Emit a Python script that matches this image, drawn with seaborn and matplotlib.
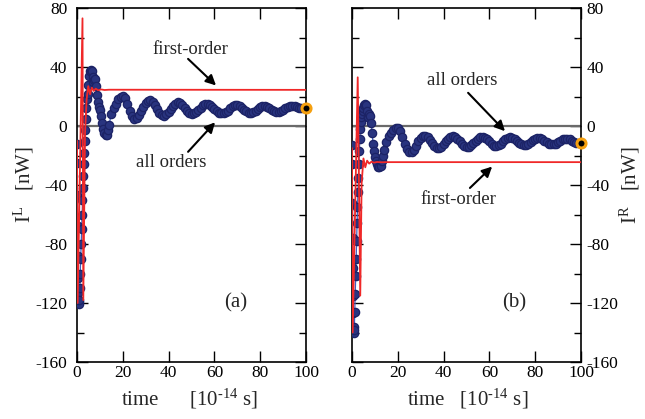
import numpy as np
import pandas as pd
import matplotlib
matplotlib.use("Agg")
import matplotlib.pyplot as plt
import seaborn as sns

# ---------------- data ----------------
t_early = [0.0, 0.1, 0.2, 0.3, 0.4, 0.5, 0.6, 0.7, 0.85, 1.0,
           1.2, 1.4, 1.6, 1.8, 2.0, 2.2, 2.4, 2.6, 2.8, 3.0,
           3.2, 3.4, 3.6, 3.8, 4.0, 4.3, 4.6, 5.0, 5.3, 5.6,
           6.0, 6.4, 6.8, 7.2, 7.6, 8.0, 8.4, 8.8, 9.2, 9.6,
           10.0, 10.5, 11.0, 11.5, 12.0, 12.5, 13.0, 13.5]
t_late = list(range(14, 101))

all_L_early = [-12, -25, -47, -68, -88, -103, -113, -119, -121, -118,
               -110, -100, -90, -80, -70, -60, -50, -42, -34, -26,
               -18, -10, -3, 5, 12, 18, 22, 28, 34, 37,
               38, 37, 33, 30, 31, 32, 27, 21, 16, 13,
               11, 7, 2, -2, -5, -6, -6, -3]
all_L_late = [1, 8, 12, 15, 18, 20, 20.5, 19, 15, 10,
              6.5, 5, 5.5, 7.5, 10, 13, 15.5, 17, 17.5, 16.5,
              14.5, 11.5, 9, 7.5, 7, 8, 9.5, 11.5, 13.5, 15,
              16, 15.5, 14, 12, 10, 8.5, 8, 8.5, 9.5, 11,
              12.5, 14, 15, 15, 14.5, 13, 11.5, 10, 9, 8.5,
              8.5, 9.5, 10.5, 12, 13.5, 14, 14, 13.5, 12.5, 11,
              10, 9, 9, 9.5, 10.5, 11.5, 13, 13.5, 13.5, 13,
              12, 11, 10, 9.5, 9.5, 10, 11, 12, 13, 13.5,
              13.5, 13.5, 13, 12.5, 12, 12, 12]

all_R_early = [-13, -26, -52, -76, -96, -115, -127, -136, -140, -138,
               -126, -114, -102, -90, -78, -66, -55, -45, -35, -26,
               -17, -9, -2, 3, 6, 8, 10, 12, 14, 15,
               14, 10, 6, 6, 8, 7, 2, -5, -12, -17,
               -21, -24, -26, -27.5, -28, -27, -24, -20]
all_R_late = [-16, -11, -7, -4.5, -2.5, -1.5, -1.5, -3.5, -7.5, -12,
              -15.5, -17.5, -17.5, -16, -13.5, -10.5, -8, -6.5, -6.5, -7.5,
              -9.5, -11.5, -13.5, -15, -15, -14, -12.5, -10.5, -9, -7.5,
              -7, -7.5, -8.5, -10, -12, -13.5, -14, -14, -13, -11.5,
              -10, -8.5, -7.5, -7.5, -8, -9, -10.5, -12, -13.5, -13.5,
              -13, -12, -10.5, -9, -8, -7.5, -8, -9, -10, -11.5,
              -12.5, -13, -13, -12, -11, -9.5, -8.5, -8, -8, -9,
              -10, -11, -12, -12.5, -12.5, -12, -11, -10, -9, -8.5,
              -8.5, -9, -10, -11, -11.5, -11.5, -11.5]

t_red_L = [0.0, 0.3, 2.4, 2.75, 3.5, 4.2, 4.9, 5.7, 6.5, 7.3, 8.2, 9.2, 10.5, 12.0, 14.0, 100.0]
first_L = [-10, -120, 73, -118, -5, 18, 27, 21.5, 26, 23.8, 25.3, 24.2, 24.8, 24.4, 24.6, 24.5]
t_red_R = [0.0, 0.3, 2.5, 3.6, 4.2, 5.0, 5.8, 6.6, 7.5, 8.5, 9.5, 11.0, 13.0, 15.0, 100.0]
first_R = [-15, -140, 33, -115, -39, -22, -28, -23.5, -25.5, -24.2, -24.8, -24.4, -24.6, -24.5, -24.5]

x_ticks = [0, 20, 40, 60, 80, 100]
y_ticks = [-160, -120, -80, -40, 0, 40, 80]

# ---------------- style ----------------
sns.set_theme(style="ticks")
plt.rcParams["font.family"] = ["Liberation Serif", "DejaVu Serif"]
plt.rcParams["mathtext.fontset"] = "custom"
plt.rcParams["mathtext.rm"] = "Liberation Serif"
plt.rcParams["mathtext.it"] = "Liberation Serif:italic"
plt.rcParams["axes.unicode_minus"] = False

fig = plt.figure(figsize=(6.45, 4.19), dpi=100)
axL = fig.add_axes([77 / 645, 1 - 362 / 419, 229 / 645, 354 / 419])
axR = fig.add_axes([352 / 645, 1 - 362 / 419, 229 / 645, 354 / 419])

blue_face = "#29347f"
blue_edge = "#1c2366"
red = "#f02828"

def draw(ax, t_red, first, all_early, all_late):
    ax.axhline(0, color="#6a6a6a", lw=1.6, zorder=1)
    dfb = pd.DataFrame({"t": t_early + t_late, "v": all_early + all_late})
    sns.lineplot(data=dfb, x="t", y="v", ax=ax, color="#3f5fc0", lw=0.9,
                 marker="o", markersize=6, markerfacecolor=blue_face,
                 markeredgecolor=blue_edge, markeredgewidth=0.9,
                 estimator=None, sort=False, zorder=3)
    dfr = pd.DataFrame({"t": t_red, "v": first})
    sns.lineplot(data=dfr, x="t", y="v", ax=ax, color=red, lw=1.3,
                 estimator=None, sort=False, zorder=4)
    ax.plot([t_late[-1]], [all_late[-1]], "o", ms=6.5, mfc="black",
            mec="#f5a010", mew=2.2, clip_on=False, zorder=6)
    ax.set_xlim(0, 100)
    ax.set_ylim(-160, 80)
    ax.set_xticks(x_ticks)
    ax.set_yticks(y_ticks)
    ax.set_yticks([-140, -100, -60, -20, 20, 60], minor=True)
    ax.tick_params(which="both", direction="in", top=True, right=True,
                   left=True, bottom=True, width=1.0, colors="black",
                   labelsize=12.5, pad=2)
    ax.tick_params(which="major", length=8)
    ax.tick_params(which="minor", length=5)
    ax.set_xlabel("")
    ax.set_ylabel("")
    for s in ax.spines.values():
        s.set_linewidth(1.2)
        s.set_color("black")

draw(axL, t_red_L, first_L, all_L_early, all_L_late)
draw(axR, t_red_R, first_R, all_R_early, all_R_late)
axL.tick_params(axis="y", pad=7)
axR.tick_params(axis="y", labelleft=False, labelright=True, pad=4)

xl = "time%s[10$^{\\mathrm{\\text{-}14}}$ s]"
fig.text(190 / 645, 1 - 399 / 419, xl % "      ", fontsize=15, ha="center", va="center")
fig.text(468 / 645, 1 - 399 / 419, xl % "   ", fontsize=15, ha="center", va="center")
fig.text(24 / 645, 1 - 185 / 419, "I$^{\\rm L}$   [nW]", fontsize=15,
         rotation=90, ha="center", va="center")
fig.text(630 / 645, 1 - 185 / 419, "I$^{\\rm R}$   [nW]", fontsize=15,
         rotation=90, ha="center", va="center")

arrow = dict(arrowstyle="-|>", color="black", lw=1.5, mutation_scale=15,
             shrinkA=0, shrinkB=0)
axL.text(49.5, 52, "first-order", fontsize=13.5, ha="center", va="center")
axL.annotate("", xy=(60.7, 27.5), xytext=(48.5, 45.5), arrowprops=arrow)
axL.text(41, -25, "all orders", fontsize=13.5, ha="center", va="center")
axL.annotate("", xy=(60.3, 2.5), xytext=(48.5, -17.5), arrowprops=arrow)
axL.text(69.5, -120, "(a)", fontsize=15, ha="center", va="center")

axR.text(48, 31, "all orders", fontsize=13.5, ha="center", va="center")
axR.annotate("", xy=(66.8, -3.5), xytext=(50.7, 22.5), arrowprops=arrow)
axR.text(46.5, -50, "first-order", fontsize=13.5, ha="center", va="center")
axR.annotate("", xy=(61.2, -27.5), xytext=(51.5, -42), arrowprops=arrow)
axR.text(71, -120, "(b)", fontsize=15, ha="center", va="center")

fig.savefig("out.png", dpi=100)
